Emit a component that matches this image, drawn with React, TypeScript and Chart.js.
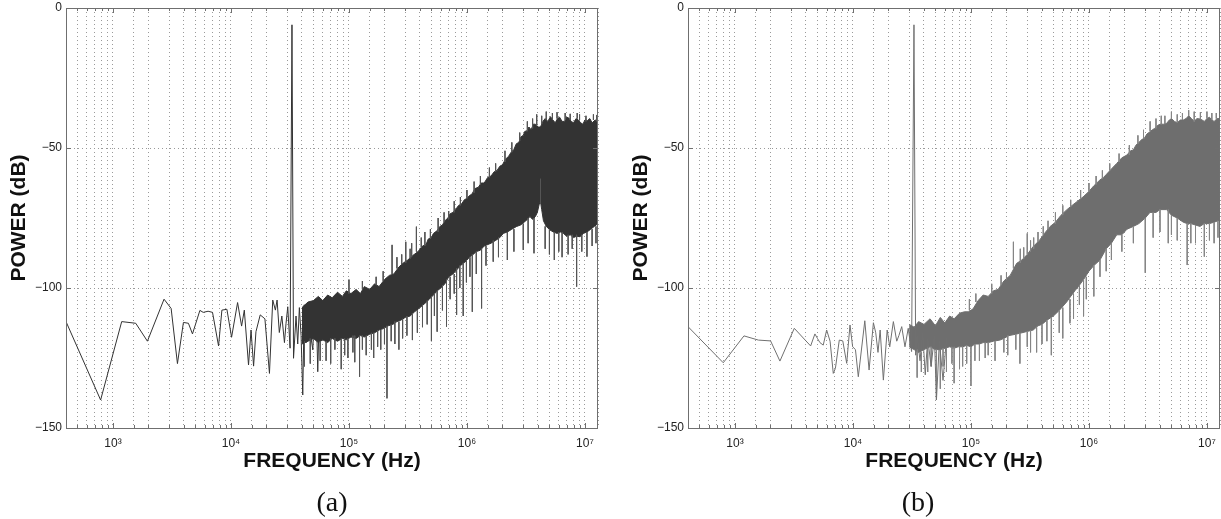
import React, { useEffect, useRef } from "react";
import { Chart, registerables } from "chart.js";

Chart.register(...registerables);

// ================= Panel (a) =================
// sparse low-frequency trace (Hz, dB)
const aLineFreq = [400, 786, 1186, 1560, 1959, 2710, 3112, 3520, 3955, 4360, 4720, 5455, 5820, 6400, 6980, 7850, 8380, 9240, 10120, 11380, 12310, 12980, 14090, 14800, 15550, 16290, 17700, 19400, 21200, 22600, 23800, 24600, 25700, 27000, 28400, 29300, 30300, 31700, 32900, 33900, 35600, 36800, 38000, 39300, 40600, 41800, 43400, 44800, 46200, 47800, 49400, 51000, 52700, 54400, 56200, 58000, 60000];
const aLineDb = [-112, -140, -112, -112.6, -119, -104, -107.3, -127, -112.3, -112.6, -116.4, -108, -108.7, -108.3, -108.7, -120.7, -107.9, -107.6, -117.6, -105.2, -113.6, -107.9, -127.5, -115, -127.9, -115.6, -109.6, -111, -130.5, -104.3, -107.9, -104.3, -115.9, -110, -119.5, -112.6, -106.7, -121.5, -6, -125.1, -110, -120, -107, -117, -138.2, -106, -119.5, -108, -106.7, -118, -122.1, -107, -105.5, -129.9, -107, -118, -108];

// dense band: upper body edge
const aUpperFreq = [40000, 45000, 50000, 55000, 60000, 66000, 72000, 80000, 88000, 95000, 104000, 115000, 125000, 135000, 150000, 165000, 180000, 200000, 220000, 240000, 265000, 290000, 315000, 345000, 385000, 420000, 450000, 470000, 500000, 520000, 560000, 590000, 620000, 650000, 690000, 720000, 760000, 800000, 850000, 900000, 950000, 1000000, 1050000, 1100000, 1170000, 1250000, 1320000, 1400000, 1500000, 1600000, 1700000, 1800000, 1900000, 2000000, 2120000, 2250000, 2370000, 2500000, 2620000, 2750000, 2870000, 3000000, 3100000, 3200000, 3350000, 3500000, 3650000, 3800000, 4000000, 4200000, 4400000, 4600000, 4850000, 5100000, 5350000, 5600000, 5850000, 6100000, 6400000, 6700000, 7000000, 7300000, 7650000, 8000000, 8400000, 8800000, 9200000, 9600000, 10000000, 10500000, 11000000, 11500000, 12200000, 12900000];
const aUpperDb = [-107, -105, -104.5, -103, -104.5, -102.5, -103.5, -101.5, -103, -101, -102, -100.5, -102, -99.5, -100.5, -98.5, -99.5, -97, -95.5, -95, -92.5, -91, -90, -88.5, -87, -85, -84.5, -82.5, -82, -80.5, -79.5, -78, -77.5, -76, -75, -73.5, -73, -72, -70.5, -70, -68.5, -68, -67, -66.5, -64.5, -64, -62.5, -62.5, -60.5, -60, -58.5, -58, -56.5, -56, -54, -53, -51.5, -50.5, -48.5, -48, -46, -45.5, -44, -44, -42.5, -43.5, -41.5, -41.5, -42.5, -42.5, -40.5, -39.5, -40.5, -38.8, -40, -41, -39.5, -39, -40.5, -40.5, -39, -39.3, -40.5, -41, -39.5, -40, -41, -41.5, -40, -40.2, -39.5, -41, -40, -40.5];

// dense band: lower body edge
const aLowerFreq = [40000, 45000, 50000, 55000, 60000, 66000, 72000, 80000, 88000, 95000, 104000, 115000, 125000, 135000, 150000, 165000, 180000, 196000, 215000, 235000, 255000, 275000, 300000, 330000, 360000, 400000, 440000, 480000, 520000, 560000, 600000, 650000, 700000, 760000, 820000, 880000, 950000, 1000000, 1060000, 1130000, 1200000, 1300000, 1400000, 1500000, 1600000, 1750000, 1900000, 2030000, 2200000, 2400000, 2640000, 2850000, 3050000, 3250000, 3420000, 3600000, 3800000, 3950000, 4100000, 4200000, 4300000, 4450000, 4700000, 5060000, 5400000, 5800000, 6200000, 6560000, 7000000, 7500000, 8000000, 8500000, 9100000, 9700000, 10400000, 11200000, 12000000, 12900000];
const aLowerDb = [-120, -119, -118, -119.5, -118.5, -119.5, -118, -119, -118, -118.5, -117.5, -118, -117, -117.5, -116.5, -116, -115, -114.5, -113.5, -113, -112, -111.5, -110.5, -110, -108.5, -107, -105.5, -104, -102.5, -101, -100, -98.5, -96, -95, -93.5, -92, -91, -90, -88.8, -88, -87, -86.5, -85, -84.5, -84, -83, -82, -80.5, -80, -79, -78, -77.5, -76.5, -75.5, -74.5, -75.5, -74.5, -73, -70, -69, -72, -76, -78, -79.3, -80, -80.5, -80, -80.5, -81.5, -81, -82, -81.5, -81.7, -80.5, -80, -79, -78, -77];

// isolated spikes: frequency, top dB, bottom dB
const aSpikeFreq = [42000, 47000, 57000, 64000, 70000, 76000, 86000, 92000, 98000, 108000, 112000, 123000, 130000, 140000, 155000, 162000, 175000, 186000, 200000, 210000, 228000, 245000, 265000, 285000, 310000, 345000, 380000, 420000, 460000, 500000, 530000, 559000, 620000, 671000, 720000, 780000, 817000, 870000, 930000, 990000, 1060000, 1110000, 1200000, 1330000, 1450000, 1670000, 1850000, 2200000, 2500000, 3000000, 3300000, 3700000, 4200000, 4600000, 5000000, 5500000, 6000000, 6400000, 7200000, 7800000, 8500000, 9400000, 10400000, 11500000, 12400000,
  100000, 130000, 170000, 195000, 232000, 255000, 280000, 303000, 330000, 340000, 373000, 410000, 440000, 490000, 570000, 640000, 700000, 780000, 880000, 1000000, 1150000, 1300000, 1550000, 1750000, 2100000, 2400000, 2800000, 3250000, 3600000, 3900000, 4300000, 4700000, 5300000, 5800000, 6800000, 7500000, 8600000, 9000000, 10200000, 11800000, 12600000];
const aSpikeTop = [-119, -118, -119, -119, -118, -118, -118, -118, -118, -117, -117, -117, -117, -117, -116, -116, -115, -115, -114, -113.5, -113, -112, -112, -111, -110, -109, -108, -106, -104.5, -103, -102, -101, -99, -97, -96, -95, -93, -92, -91, -90, -89, -88, -87, -86, -85, -83, -82, -80, -79, -77, -75, -75, -61, -78, -79, -80, -80, -80, -81, -81, -81, -81, -80, -79, -78,
  -97, -97.5, -96, -94, -84.6, -89, -88, -83.5, -86, -84, -78.1, -82, -80, -79, -75, -73, -72.5, -69, -67.5, -65, -62, -60, -57, -55.5, -51, -48, -44.5, -40.5, -39.5, -38, -38.5, -37, -37.5, -37.2, -37.5, -37.8, -37.5, -38, -38.5, -38, -38.2];
const aSpikeBottom = [-128, -127, -126, -126, -127, -122, -129, -124, -125, -123, -126.5, -131.7, -122, -124, -122, -125, -121, -122, -120, -139.4, -119, -120, -122, -118, -117, -118.6, -116, -114, -113, -119, -110, -115.6, -108, -113.8, -104, -102, -109.6, -100, -110, -98, -96, -108.5, -95, -107.3, -92, -90.6, -89, -90, -87, -86.4, -84, -87.6, -70, -86, -88, -90, -87, -89, -88, -86, -99.5, -87, -88.8, -85, -84,
  -102, -100.5, -99, -97.5, -95, -93, -91.5, -91, -89.5, -89, -87, -85.5, -85, -82.5, -80, -76.5, -75.5, -73, -70.5, -68, -66, -63, -60.5, -58.5, -55, -51.5, -47.5, -44, -43, -42, -41.5, -40, -40, -39.5, -40, -40, -39.5, -40, -40.5, -40, -40.5];

// ================= Panel (b) =================
const bLineFreq = [400, 796, 1192, 1578, 2005, 2405, 3183, 4379, 4760, 5000, 5250, 5600, 5985, 6400, 6810, 7100, 7660, 8200, 8850, 9440, 9940, 10500, 11100, 12600, 13700, 14900, 15600, 16300, 17000, 18100, 19500, 20500, 22000, 23500, 24500, 25900, 27600, 29400, 31400, 32900, 34000, 35000, 37000, 39000, 41000, 43000, 46000, 49000, 51000, 54000, 58000, 62000];
const bLineDb = [-113.8, -126.7, -117.1, -118.6, -118.9, -126.1, -114.4, -120.7, -116.4, -118, -119.5, -120.4, -115, -119, -130.5, -128.7, -118.6, -118.9, -126.9, -113.2, -121, -122, -131.7, -111.7, -129.3, -112.4, -116, -123, -115, -132.9, -115, -121, -112, -119, -117, -113.8, -121, -114.4, -122.7, -6, -124, -117, -126, -116, -131, -118, -128, -117, -140, -119, -133, -118];

const bUpperFreq = [30000, 33000, 36000, 40000, 45000, 50000, 55000, 60000, 66000, 72000, 80000, 88000, 95000, 104000, 115000, 127000, 140000, 155000, 170000, 190000, 215000, 244000, 270000, 300000, 337000, 380000, 420000, 467000, 520000, 580000, 647000, 720000, 800000, 896000, 1000000, 1100000, 1240000, 1330000, 1400000, 1550000, 1720000, 1900000, 2100000, 2250000, 2380000, 2500000, 2650000, 2800000, 2950000, 3100000, 3290000, 3450000, 3600000, 3800000, 4000000, 4300000, 4550000, 4800000, 5000000, 5300000, 5600000, 5950000, 6300000, 6650000, 7000000, 7400000, 7800000, 8200000, 8720000, 9100000, 9500000, 10000000, 10500000, 11000000, 11500000, 12200000, 12900000];
const bUpperDb = [-113, -114, -112, -113, -111, -113.5, -110.5, -112.5, -110, -111, -109, -108.5, -108.5, -107.5, -104.5, -102.5, -103, -101, -100.5, -97.5, -95.5, -91.2, -90, -88, -85.2, -83, -80.5, -78.1, -76.5, -74, -72.1, -70.5, -69, -67.4, -65.5, -63.5, -61.4, -60.5, -59.5, -57.5, -55.5, -53.5, -52.5, -51, -50.7, -49, -48, -47, -46.5, -45, -44.2, -43.5, -43, -42, -41.5, -41.5, -41.2, -40, -39.5, -40.5, -41, -40, -40, -39.5, -38.5, -39.5, -40.5, -39.5, -39.6, -40, -40.5, -39.5, -39, -40, -40.5, -39.5, -39.5];

const bLowerFreq = [30000, 33000, 36000, 40000, 45000, 50000, 55000, 60000, 66000, 72000, 78000, 85000, 92000, 100000, 108000, 118000, 127000, 140000, 155000, 176000, 190000, 210000, 240000, 270000, 300000, 337000, 370000, 400000, 440000, 500000, 560000, 647000, 700000, 760000, 830000, 900000, 1000000, 1100000, 1240000, 1400000, 1550000, 1720000, 1900000, 2100000, 2380000, 2650000, 3000000, 3290000, 3700000, 4000000, 4550000, 5000000, 5600000, 6300000, 6800000, 7300000, 8000000, 8720000, 9500000, 10500000, 11500000, 12900000];
const bLowerDb = [-121, -122, -123, -122, -121, -122, -122, -121.5, -121, -121.5, -121, -121, -120.5, -121, -120, -120, -119.5, -119.5, -119, -118.6, -118, -117, -116.5, -116, -115.5, -115, -113.5, -113, -111.5, -110, -108, -105, -103, -101, -99, -97, -94, -92, -90, -86, -84, -81, -81, -79, -78, -77, -75, -73, -73, -72, -72, -74, -75, -76.5, -77, -77, -77.5, -78, -77, -77, -76.5, -75.7];

const bSpikeFreq = [35000, 38000, 43000, 46000, 51000, 55000, 58000, 62000, 69000, 72000, 80000, 85000, 92000, 100000, 108000, 118000, 132000, 140000, 160000, 190000, 205000, 240000, 260000, 300000, 320000, 360000, 400000, 440000, 480000, 560000, 600000, 690000, 740000, 830000, 900000, 950000, 1100000, 1240000, 1400000, 1550000, 1900000, 2380000, 3000000, 3500000, 4000000, 4700000, 5000000, 5600000, 6800000, 7300000, 8000000, 9500000, 10500000, 11500000, 12400000,
  97000, 110000, 150000, 180000, 200000, 229000, 262000, 280000, 300000, 320000, 340000, 370000, 410000, 450000, 520000, 600000, 700000, 850000, 1000000, 1150000, 1300000, 1500000, 1800000, 2200000, 2600000, 2900000, 3300000, 3700000, 4100000, 4400000, 5000000, 5600000, 6200000, 7000000, 7800000, 8800000, 10000000, 11000000, 12000000];
const bSpikeTop = [-122, -123, -121, -121, -122, -122, -121.5, -121.5, -121, -121, -121, -121, -120.5, -121, -120, -120, -119.5, -119.5, -119, -118, -117, -116.5, -116, -115.5, -115, -114, -113, -111.5, -110.5, -108, -107, -104, -102, -99, -97, -96, -92, -90, -86, -84, -81, -78, -75, -73, -72, -72, -74, -75, -77, -77, -77.5, -77, -77, -76.5, -76,
  -104, -102, -98.5, -95.5, -94.5, -83.5, -86, -85.5, -80.5, -83, -82, -80, -78, -76, -73, -70.5, -68.5, -65, -62.5, -60, -58, -55.5, -52, -49, -45.5, -43.5, -40.5, -39.5, -38.5, -38.5, -37, -38, -37.5, -36.5, -37, -37.2, -37, -37.5, -37.5];
const bSpikeBottom = [-132, -130, -130, -128, -140, -136, -128, -130, -127, -134, -129, -128, -127, -135, -126, -126, -125, -124, -126, -123, -124, -122, -127, -121, -123, -123, -120, -119, -124, -116, -118, -112.6, -111, -106, -110, -104, -103, -96, -94, -90, -87, -84, -94.6, -82, -80, -84, -81, -83, -91.8, -84, -84, -88.8, -83, -84, -82,
  -108, -105, -102, -99, -97, -93, -91, -89.5, -88, -87, -86, -83.5, -81, -79, -77, -74, -71, -68, -65.5, -63, -61, -58, -55, -52.5, -48.5, -46.5, -44, -43, -41.5, -41.5, -39.5, -41, -40, -38.5, -40.5, -39.6, -39.5, -40, -39.5];

// ================= Axes =================
const xMin = 400;
const xMax = 12900000;
const yTicks = [0, -50, -100, -150];
const supDigits: Record<number, string> = { 3: "³", 4: "⁴", 5: "⁵", 6: "⁶", 7: "⁷" };

const pts = (f: number[], d: number[]) => f.map((x, i) => ({ x, y: d[i] }));
const spikePts = (f: number[], top: number[], bot: number[]) => {
  const out: { x: number; y: number | null }[] = [];
  f.forEach((x, i) => {
    out.push({ x, y: top[i] });
    out.push({ x, y: bot[i] });
    out.push({ x, y: null });
  });
  return out;
};

const boxPlugin = {
  id: "matlabBox",
  afterDraw(chart: any) {
    const { ctx, chartArea: a, scales } = chart;
    ctx.save();
    ctx.strokeStyle = "#6f6f6f";
    ctx.lineWidth = 1;
    ctx.setLineDash([]);
    const xs = scales.x;
    ctx.beginPath();
    xs.ticks.forEach((t: any) => {
      const v = t.value;
      if (v <= xMin || v >= xMax) return;
      const e = Math.log10(v);
      const major = Math.abs(e - Math.round(e)) < 1e-6;
      const len = major ? 5 : 3;
      const px = Math.round(xs.getPixelForValue(v)) + 0.5;
      ctx.moveTo(px, a.bottom);
      ctx.lineTo(px, a.bottom - len);
      ctx.moveTo(px, a.top);
      ctx.lineTo(px, a.top + len);
    });
    const ys = scales.y;
    ys.ticks.forEach((t: any) => {
      const py = Math.round(ys.getPixelForValue(t.value)) + 0.5;
      ctx.moveTo(a.left, py);
      ctx.lineTo(a.left + 5, py);
      ctx.moveTo(a.right, py);
      ctx.lineTo(a.right - 5, py);
    });
    ctx.stroke();
    ctx.strokeRect(Math.round(a.left) + 0.5, Math.round(a.top) + 0.5, Math.round(a.right - a.left) - 1, Math.round(a.bottom - a.top));
    ctx.restore();
  },
};

const font = "'Liberation Sans', Arial, sans-serif";

function Panel(props: {
  left: number;
  lineF: number[];
  lineD: number[];
  upF: number[];
  upD: number[];
  loF: number[];
  loD: number[];
  spF: number[];
  spT: number[];
  spB: number[];
  color: string;
  lineColor: string;
  spikeColor: string;
}) {
  const ref = useRef<HTMLCanvasElement | null>(null);
  useEffect(() => {
    if (!ref.current) return;
    const band = pts(props.upF, props.upD).concat(pts(props.loF, props.loD).reverse());
    const chart = new Chart(ref.current, {
      type: "line",
      data: {
        datasets: [
          {
            data: pts(props.lineF, props.lineD),
            borderColor: props.lineColor,
            borderWidth: 1,
            pointRadius: 0,
            fill: false,
            tension: 0,
          },
          {
            data: spikePts(props.spF, props.spT, props.spB),
            borderColor: props.spikeColor,
            borderWidth: 1,
            pointRadius: 0,
            fill: false,
            spanGaps: false,
            tension: 0,
          },
          {
            data: band,
            borderColor: props.color,
            backgroundColor: props.color,
            borderWidth: 1,
            pointRadius: 0,
            fill: "shape",
            tension: 0,
          },
        ],
      },
      options: {
        animation: false,
        responsive: false,
        events: [],
        layout: { padding: { top: 8, right: 1, bottom: 41, left: 0 } },
        plugins: { legend: { display: false }, tooltip: { enabled: false } },
        scales: {
          x: {
            type: "logarithmic",
            min: xMin,
            max: xMax,
            afterFit: (s: any) => {
              s.height = 50;
              s.paddingLeft = 0;
              s.paddingRight = 0;
            },
            grid: { color: "#9a9a9a", lineWidth: 1, drawTicks: false },
            border: { display: false, dash: [1, 3] },
            ticks: {
              autoSkip: false,
              maxRotation: 0,
              padding: 8,
              color: "#222",
              font: { family: font, size: 12 },
              callback: (v: any) => {
                const e = Math.log10(Number(v));
                const r = Math.round(e);
                return Math.abs(e - r) < 1e-6 && supDigits[r] ? "10" + supDigits[r] : "";
              },
            },
            title: {
              display: true,
              text: "FREQUENCY (Hz)",
              color: "#111",
              font: { family: font, size: 21, weight: "bold", lineHeight: 1.2 },
              padding: { top: 0, bottom: 4 },
            },
          },
          y: {
            type: "linear",
            min: -150,
            max: 0,
            afterFit: (s: any) => {
              s.width = 66;
              s.paddingTop = 0;
              s.paddingBottom = 0;
            },
            afterBuildTicks: (s: any) => {
              s.ticks = yTicks.map((v) => ({ value: v }));
            },
            grid: { color: "#9a9a9a", lineWidth: 1, drawTicks: false },
            border: { display: false, dash: [1, 3] },
            ticks: {
              padding: 4,
              color: "#222",
              font: { family: font, size: 12 },
              callback: (v: any) => (Number(v) === 0 ? "0" : "\u2212" + Math.abs(Number(v))),
            },
            title: {
              display: true,
              text: "POWER (dB)",
              color: "#111",
              font: { family: font, size: 21, weight: "bold", lineHeight: 1.2 },
              padding: { top: 7, bottom: 0 },
            },
          },
        },
      },
      plugins: [boxPlugin],
    } as any);
    return () => chart.destroy();
  }, []);
  return (
    <canvas
      ref={ref}
      width={599}
      height={519}
      style={{ position: "absolute", left: props.left, top: 0, width: 599, height: 519 }}
    />
  );
}

const captionStyle = (cx: number): React.CSSProperties => ({
  position: "absolute",
  left: cx - 40,
  width: 80,
  top: 486,
  textAlign: "center",
  fontFamily: "'Liberation Serif', 'Times New Roman', serif",
  fontSize: 28,
  lineHeight: "32px",
  color: "#111",
});

export default function App() {
  return (
    <div style={{ position: "fixed", left: 0, top: 0, width: 1221, height: 519, overflow: "hidden", background: "#fff" }}>
      <Panel left={0} lineF={aLineFreq} lineD={aLineDb} upF={aUpperFreq} upD={aUpperDb} loF={aLowerFreq} loD={aLowerDb}
        spF={aSpikeFreq} spT={aSpikeTop} spB={aSpikeBottom} color="#333333" lineColor="#333333" spikeColor="#555555" />
      <Panel left={622} lineF={bLineFreq} lineD={bLineDb} upF={bUpperFreq} upD={bUpperDb} loF={bLowerFreq} loD={bLowerDb}
        spF={bSpikeFreq} spT={bSpikeTop} spB={bSpikeBottom} color="#6e6e6e" lineColor="#707070" spikeColor="#858585" />
      <div style={captionStyle(332)}>(a)</div>
      <div style={captionStyle(918)}>(b)</div>
    </div>
  );
}
